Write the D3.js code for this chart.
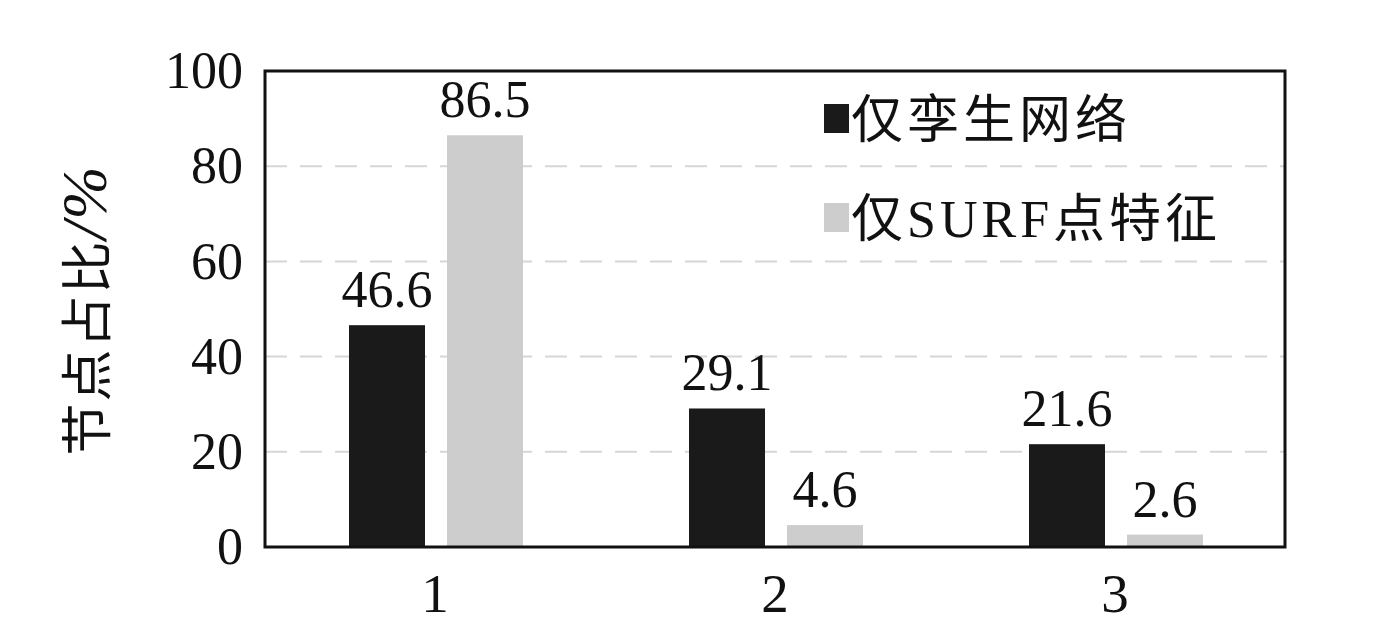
<!DOCTYPE html>
<html><head><meta charset="utf-8">
<script src="https://cdn.jsdelivr.net/npm/d3@7"></script>
<style>body{margin:0;background:#fff}svg{display:block}</style>
</head><body>
<svg id="chart" width="1375" height="640"></svg>
<script>
const categories = ["1", "2", "3"];
const seriesNames = ["仅孪生网络", "仅SURF点特征"];
const twinValues = [46.6, 29.1, 21.6];
const surfValues = [86.5, 4.6, 2.6];
const yTicks = [0, 20, 40, 60, 80, 100];
const colors = ["#1a1a1a", "#cdcdcd"];

const font = "'Liberation Serif','Times New Roman','Noto Sans CJK SC',serif";
const svg = d3.select("#chart");
const m = {left: 265, right: 1285, top: 71, bottom: 547};

const x0 = d3.scaleBand().domain(categories).range([m.left, m.right]).paddingInner(0).paddingOuter(0);
const x1 = d3.scaleBand().domain([0, 1]).range([0, 174]).paddingInner(22 / 98).paddingOuter(0);
const y = d3.scaleLinear().domain([0, 100]).range([m.bottom, m.top]);

// grid
svg.append("g").selectAll("line").data(yTicks.filter(t => t > 0 && t < 100)).join("line")
  .attr("x1", m.left).attr("x2", m.right)
  .attr("y1", d => y(d)).attr("y2", d => y(d))
  .attr("stroke", "#d6d6d6").attr("stroke-width", 2).attr("stroke-dasharray", "22,13");

const data = categories.map((c, i) => ({cat: c, vals: [twinValues[i], surfValues[i]]}));
const groupOffset = (x0.bandwidth() - 174) / 2 + 1;

const g = svg.append("g").selectAll("g").data(data).join("g")
  .attr("transform", d => `translate(${x0(d.cat) + groupOffset},0)`);
g.selectAll("rect").data(d => d.vals.map((v, k) => ({v, k}))).join("rect")
  .attr("x", d => x1(d.k)).attr("width", x1.bandwidth())
  .attr("y", d => y(d.v)).attr("height", d => y(0) - y(d.v))
  .attr("fill", d => colors[d.k]);
g.selectAll("text").data(d => d.vals.map((v, k) => ({v, k}))).join("text")
  .attr("x", d => x1(d.k) + x1.bandwidth() / 2).attr("y", d => y(d.v) - 18)
  .attr("text-anchor", "middle").attr("font-family", font).attr("font-size", 52)
  .attr("fill", "#111").text(d => d.v.toFixed(1));

// frame
svg.append("rect").attr("x", m.left).attr("y", m.top)
  .attr("width", m.right - m.left).attr("height", m.bottom - m.top)
  .attr("fill", "none").attr("stroke", "#111").attr("stroke-width", 3);

// y axis
const yAxis = d3.axisLeft(y).tickValues(yTicks).tickSize(0).tickPadding(22);
const ya = svg.append("g").attr("transform", `translate(${m.left},0)`).call(yAxis);
ya.select(".domain").remove();
ya.selectAll("text").attr("font-family", font).attr("font-size", 52).attr("fill", "#111");

// x axis
const xAxis = d3.axisBottom(x0).tickSize(0).tickPadding(26);
const xa = svg.append("g").attr("transform", `translate(0,${m.bottom})`).call(xAxis);
xa.select(".domain").remove();
xa.selectAll("text").attr("font-family", font).attr("font-size", 55).attr("fill", "#111");

// y label
const yl = svg.append("text").attr("transform", "translate(106,310) rotate(-90)")
  .attr("text-anchor", "middle").attr("font-family", font).attr("font-size", 52)
  .attr("letter-spacing", 2).attr("fill", "#111");
yl.append("tspan").text("节点占比");
yl.append("tspan").attr("font-size", 64).attr("font-style", "italic").text("/%");

// legend
const leg = svg.append("g").selectAll("g").data(seriesNames).join("g")
  .attr("transform", (d, i) => `translate(824,${104 + i * 99})`);
leg.append("rect").attr("width", 25).attr("height", 29).attr("fill", (d, i) => colors[i]);
leg.append("text").attr("x", 27).attr("y", 34).attr("font-family", font).attr("font-size", 52)
  .attr("letter-spacing", 4)
  .attr("fill", "#111").text(d => d);
</script>
</body></html>
